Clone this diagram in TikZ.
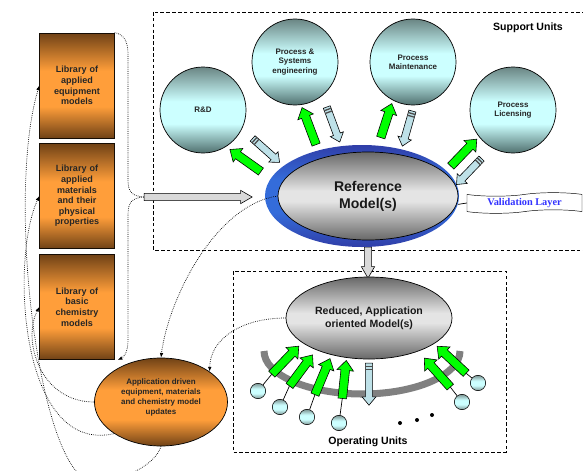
\documentclass[tikz,border=0pt]{standalone}
\usepackage{fontspec}
\setmainfont{Liberation Sans}
\newfontfamily\timesfont{Liberation Serif}
\usetikzlibrary{calc}
\usetikzlibrary{arrows.meta}
\usetikzlibrary{shapes.geometric}
\usetikzlibrary{shapes.arrows}
\usetikzlibrary{shapes.symbols}

\definecolor{libbrown}{RGB}{112,66,22}
\definecolor{liborange}{RGB}{255,158,58}
\definecolor{unitdark}{RGB}{80,112,110}
\definecolor{unitlight}{RGB}{204,255,255}
\definecolor{elldark}{RGB}{104,104,104}
\definecolor{elllight}{RGB}{228,228,228}
\definecolor{ringdark}{RGB}{48,62,168}
\definecolor{ringlight}{RGB}{52,108,218}
\definecolor{arrgreen}{RGB}{0,255,0}
\definecolor{arrblue}{RGB}{190,225,232}
\definecolor{valblue}{RGB}{50,50,255}

% shadings: the path covers 25bp..75bp of each
\pgfdeclareverticalshading{libshade}{100bp}{color(0bp)=(libbrown); color(25bp)=(libbrown);
  color(40bp)=(liborange); color(57bp)=(liborange); color(75bp)=(libbrown); color(100bp)=(libbrown)}
\pgfdeclareverticalshading{unitshade}{100bp}{color(0bp)=(unitdark); color(25bp)=(unitdark);
  color(42bp)=(unitlight); color(55bp)=(unitlight); color(75bp)=(unitdark!85); color(100bp)=(unitdark!85)}
\pgfdeclareverticalshading{opshade}{100bp}{color(0bp)=(unitdark!75); color(25bp)=(unitdark!75);
  color(42bp)=(unitlight); color(57bp)=(unitlight); color(75bp)=(unitdark!75); color(100bp)=(unitdark!75)}
\pgfdeclareverticalshading{grayshade}{100bp}{color(0bp)=(elldark); color(25bp)=(elldark);
  color(47bp)=(elllight); color(53bp)=(elllight); color(75bp)=(elldark); color(100bp)=(elldark)}
\pgfdeclareverticalshading{ringshade}{100bp}{color(0bp)=(ringdark); color(25bp)=(ringdark);
  color(42bp)=(ringlight); color(58bp)=(ringlight); color(75bp)=(ringdark); color(100bp)=(ringdark)}

\tikzset{
  frame/.style={densely dashed, line width=0.6pt},
  link/.style={densely dotted, line width=0.6pt, -{Latex[length=4pt,width=3pt]}},
  libbox/.style={draw=black!80!libbrown, line width=0.8pt, minimum width=2.22cm,
    minimum height=3.15cm, shade, shading=libshade, text width=2cm, align=center,
    font=\fontsize{7.7}{9}\selectfont\bfseries, text=black!85},
  unit/.style={circle, draw, line width=0.6pt, minimum size=2.58cm, inner sep=0pt,
    shade, shading=unitshade, align=center,
    font=\fontsize{6.8}{8}\selectfont\bfseries, text=black!85},
  opunit/.style={circle, draw, line width=0.5pt, minimum size=0.46cm, inner sep=0pt,
    shade, shading=opshade},
  ringell/.style={ellipse, minimum width=5.82cm, minimum height=3.06cm,
    shade, shading=ringshade},
  grayell/.style={ellipse, draw, line width=0.6pt, shade, shading=grayshade,
    align=center, text=black!90},
  appell/.style={ellipse, draw, line width=0.6pt, minimum width=3.99cm,
    minimum height=2.64cm, shade, shading=libshade, align=center, inner sep=0pt,
    font=\fontsize{6.8}{8.5}\selectfont\bfseries, text=black!85},
  banner/.style={tape, draw, fill=white, minimum width=3.45cm, minimum height=0.62cm,
    tape bend height=3pt, inner sep=0pt, text=valblue,
    font={\timesfont\bfseries\fontsize{8.8}{10}\selectfont}},
  caption/.style={font=\fontsize{9}{10}\selectfont\bfseries},
  grayarrow/.style={single arrow, draw, fill=black!15, line width=0.5pt,
    inner sep=0.1cm, single arrow head extend=0.09cm, single arrow tip angle=60},
  greenarrow/.style={single arrow, draw, fill=arrgreen, line width=0.5pt,
    inner sep=0.12cm, single arrow head extend=0.12cm, single arrow tip angle=80},
  bluearrow/.style={single arrow, draw, fill=arrblue, line width=0.5pt,
    inner sep=0.1cm, single arrow head extend=0.1cm, single arrow tip angle=80}
}

% block arrow: style, name, from, to
\newcommand{\blockarrow}[4]{%
  \path let \p1=(#3), \p2=(#4), \n1={atan2(\y2-\y1,\x2-\x1)},
    \n2={veclen(\x2-\x1,\y2-\y1)} in
    node[#1, rotate=\n1, minimum height=\n2] (#2) at ($(#3)!0.5!(#4)$) {};}
% dark stripes near the tail of an arrow
\newcommand{\tailstripes}[1]{%
  \foreach \f in {0.1,0.2}
    \draw[line width=1.1pt, black!70]
      ($(#1.before tail)!\f!(#1.after head)$) -- ($(#1.after tail)!\f!(#1.before head)$);}

\begin{document}
\begin{tikzpicture}[x=0.03cm, y=-0.03cm]
\useasboundingbox (0,0) rectangle (583,470);
\clip (0,0) rectangle (583,470);

% frames
\draw[frame] (153,12) rectangle (600,250);
\draw[frame] (233,271) rectangle (506,452);
\node[caption] (supcap) at (528,28) {Support Units};
\node[caption] (opcap) at (368,442) {Operating Units};

% libraries
\node[libbox] (lib1) at (77,85.5) {Library of\\applied\\equipment\\models};
\node[libbox] (lib2) at (77,196) {Library of\\applied\\materials\\and their\\physical\\properties};
\node[libbox] (lib3) at (77,307) {Library of\\basic\\chemistry\\models};

% support units
\node[unit] (rd) at (203,110) {R\&D};
\node[unit] (pse) at (295,62) {Process \&\\Systems\\engineering};
\node[unit] (pm) at (413,62) {Process\\Maintenance};
\node[unit] (pl) at (513,110) {Process\\Licensing};

% arrows into and out of the reference model
\blockarrow{grayarrow}{libarr}{141,197}{249,197}
\blockarrow{grayarrow}{refarr}{368,244}{368,275}

\node[ringell] (ring) at (362,196) {};
\node[grayell, minimum width=5.4cm, minimum height=2.64cm,
  font=\fontsize{12}{14.5}\selectfont\bfseries] (ref) at (368,196) {Reference\\Model(s)};
\node[banner] (valid) at (524.5,203) {Validation Layer};
\draw[line width=0.6pt] (ring.-5) -- (valid.west);

\blockarrow{greenarrow}{grd}{263,173}{232,151}
\blockarrow{bluearrow}{brd}{251,137}{278,161}
\blockarrow{greenarrow}{gpse}{317,147}{303,110}
\blockarrow{bluearrow}{bpse}{326,105}{339,140}
\blockarrow{greenarrow}{gpm}{380,140}{391,106}
\blockarrow{bluearrow}{bpm}{413,109}{403,144}
\blockarrow{greenarrow}{gpl}{449,168}{475,141}
\blockarrow{bluearrow}{bpl}{483,157}{458,183}
\tailstripes{brd}
\tailstripes{bpse}
\tailstripes{bpm}
\tailstripes{bpl}

% operating units
\draw[line width=6pt, black!50] (264,351) arc[start angle=180, end angle=0, x radius=98, y radius=43];
\foreach \k/\ux/\uy/\tx/\ty/\hx/\hy in {1/258/391/270/376/297/348, 2/280/407/288/388/311/357,
    3/307/417/314/397/329/361, 4/339/423/342/401/346/363,
    5/462/402/452/389/426/360, 6/478/383/468/375/439/348} {
  \blockarrow{greenarrow}{g\k}{\tx,\ty}{\hx,\hy}
  \node[opunit] (u\k) at (\ux,\uy) {};
  \draw[line width=0.6pt] (u\k) -- (g\k.tail);
}
\node[grayell, minimum width=4.98cm, minimum height=2.46cm,
  font=\fontsize{9}{11}\selectfont\bfseries] (red) at (369,318) {Reduced, Application\\oriented Model(s)};
\blockarrow{bluearrow}{bred}{369,361}{369,403}
\tailstripes{bred}
\fill (400,423) circle[radius=2];
\fill (417,420) circle[radius=2];
\fill (432,415) circle[radius=2];

% model updates
\node[appell] (app) at (161,402) {Application driven\\equipment, materials\\and chemistry model\\updates\\\mbox{}};

% dotted links
\draw[densely dotted, line width=0.6pt] (lib1.north east) .. controls (130,36) and (128,50) .. (128,70)
  -- (128,180) .. controls (128,192) and (132,196) .. (libarr.tail);
\draw[link] (libarr.tail) .. controls (132,198) and (128,202) .. (128,215)
  -- (128,340) .. controls (128,352) and (124,357) .. ($(lib3.south east)+(3,0)$);
\draw[link] (ref.west) .. controls (215,205) and (168,300) .. (app.north);
\draw[link] (red.west) .. controls (240,318) and (210,340) .. (app.32);
\draw[link] (app.west) .. controls (40,402) and (22,340) .. (lib3.west);
\draw[link] (app.214) .. controls (20,455) and (10,260) .. (lib2.west);
\draw[link] (app.south) .. controls (155,465) and (125,480) .. (95,482)
  .. controls (40,484) and (5,200) .. (lib1.west);

\end{tikzpicture}
\end{document}
